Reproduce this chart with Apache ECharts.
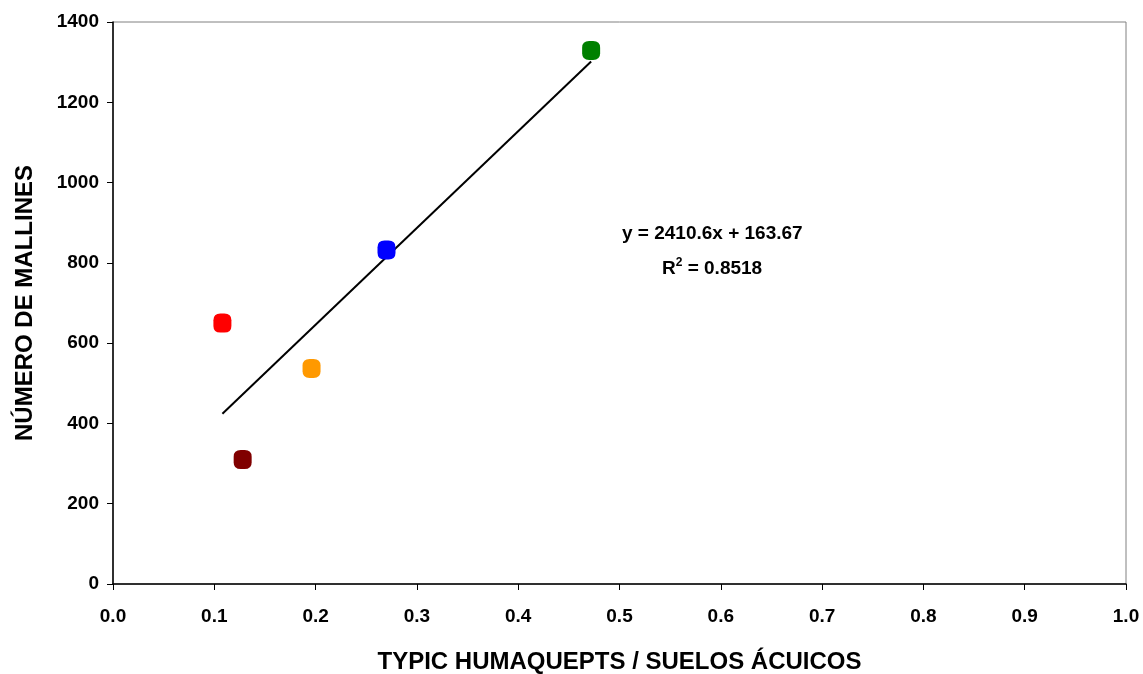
<!DOCTYPE html>
<html>
<head>
<meta charset="utf-8">
<script src="https://cdn.jsdelivr.net/npm/echarts@6/dist/echarts.min.js"></script>
<style>html,body{margin:0;padding:0;background:#fff}#c{width:1143px;height:674px}</style>
</head>
<body>
<div id="c"></div>
<script>
const xValues = [0.108, 0.128, 0.196, 0.270, 0.472];
const yValues = [650, 310, 537, 832, 1329];
const pointColors = ['#ff0000', '#800000', '#ff9900', '#0000ff', '#008000'];
const slope = 2410.6;
const intercept = 163.67;
const r2 = 0.8518;
const xTitle = 'TYPIC HUMAQUEPTS / SUELOS ÁCUICOS';
const yTitle = 'NÚMERO DE MALLINES';

const font = 'Liberation Sans, Arial, sans-serif';
const xmin = Math.min(...xValues), xmax = Math.max(...xValues);
const trend = [[xmin, slope * xmin + intercept], [xmax, slope * xmax + intercept]];
const markerPath = 'path://M7,0 H11 Q18,0 18,7 V13 Q18,20 11,20 H7 Q0,20 0,13 V7 Q0,0 7,0 Z';

const chart = echarts.init(document.getElementById('c'));
chart.setOption({
  backgroundColor: '#fff',
  animation: false,
  grid: { left: 113, right: 17, top: 22, bottom: 90, outerBoundsMode: 'none', containLabel: false,
          show: true, borderColor: '#808080', borderWidth: 1 },
  xAxis: {
    type: 'value', min: 0, max: 1, interval: 0.1,
    axisLine: { onZero: false, lineStyle: { color: '#000', width: 1.5 } },
    axisTick: { show: true, length: 6, lineStyle: { color: '#000' } },
    splitLine: { show: false },
    axisLabel: { color: '#000', fontFamily: font, fontWeight: 'bold', fontSize: 19, margin: 23, formatter: v => v.toFixed(1) },
    name: xTitle, nameLocation: 'middle', nameGap: 66,
    nameTextStyle: { color: '#000', fontFamily: font, fontWeight: 'bold', fontSize: 24 }
  },
  yAxis: {
    type: 'value', min: 0, max: 1400, interval: 200,
    axisLine: { show: true, onZero: false, lineStyle: { color: '#000', width: 1.5 } },
    axisTick: { show: true, length: 6, lineStyle: { color: '#000' } },
    splitLine: { show: false },
    axisLabel: { color: '#000', fontFamily: font, fontWeight: 'bold', fontSize: 19, margin: 14, formatter: v => String(v) },
    name: yTitle, nameLocation: 'middle', nameGap: 76,
    nameTextStyle: { color: '#000', fontFamily: font, fontWeight: 'bold', fontSize: 24 }
  },
  series: [
    {
      type: 'line', data: trend, symbol: 'none', silent: true,
      lineStyle: { color: '#000', width: 2 }, z: 2
    },
    {
      type: 'scatter', symbol: markerPath, symbolSize: [18, 19], z: 3,
      data: xValues.map((x, i) => ({ value: [x, yValues[i]], itemStyle: { color: pointColors[i], opacity: 1 } }))
    }
  ],
  graphic: [
    {
      type: 'text', left: 622, top: 224,
      style: { text: 'y = ' + slope + 'x + ' + intercept, font: 'bold 19px ' + font, fill: '#000' }
    },
    {
      type: 'text', left: 662, top: 257,
      style: {
        text: '{a|R}{s|2}{a| = ' + r2 + '}',
        rich: {
          a: { font: 'bold 19px ' + font, fill: '#000', verticalAlign: 'bottom' },
          s: { font: 'bold 12px ' + font, fill: '#000', verticalAlign: 'top', padding: [0, 0, 9, 0] }
        }
      }
    }
  ]
});
</script>
</body>
</html>
